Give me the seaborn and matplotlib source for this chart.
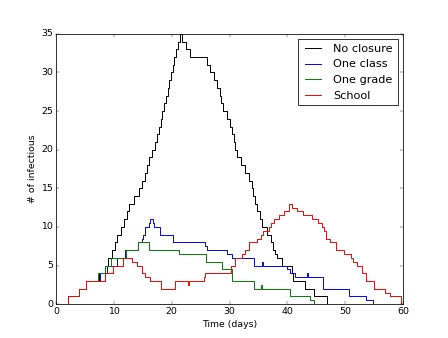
import pandas as pd
import numpy as np
import matplotlib
matplotlib.use('Agg')
import matplotlib.pyplot as plt
from matplotlib.lines import Line2D
import seaborn as sns

# values (time in days, number infectious)
no_closure_t = [0, 2, 3.9, 5.1, 7.4, 8.5, 8.9, 9.6, 10.2, 10.6, 11.2, 11.7, 12.2, 12.7, 13.5, 14.3,
                14.8, 15.3, 15.7, 16.0, 16.6, 17.1, 17.4, 17.8, 18.1, 18.4, 18.7, 19.0, 19.3, 19.5,
                19.9, 20.2, 20.4, 20.8, 21.1, 21.5, 21.8, 22.4, 23.2, 26.1, 26.6, 27.3, 27.8, 28.3,
                28.6, 28.9, 29.5, 30.0, 30.4, 30.8, 31.0, 31.3, 32.0, 32.7, 33.3, 33.8, 34.1, 34.4,
                34.7, 35.2, 35.6, 36.5, 37.1, 37.5, 37.9, 38.2, 39.0, 40.8, 41.0, 43.1, 44.5, 46.8, 60]
no_closure_v = [0, 1, 2, 3, 4, 5, 6, 7, 8, 9, 10, 11, 12, 13, 14, 15,
                16, 17, 18, 19, 20, 21, 22, 23, 24, 25, 26, 27, 28, 29,
                30, 31, 32, 33, 34, 35, 34, 33, 32, 31, 30, 29, 28, 27,
                26, 25, 24, 23, 22, 21, 20, 19, 18, 17, 16, 15, 14, 13,
                12, 11, 10, 9, 8, 7, 6.5, 6, 5, 4, 3, 2, 1, 0, 0]

one_class_t = [0, 2, 3.9, 5.1, 7.6, 8.8, 10.5, 11.9, 14.2, 14.8, 15.1, 15.4, 16.0, 16.3, 16.7,
               17.0, 18.0, 20.3, 25.8, 26.1, 29.5, 30.4, 34.2, 35.6, 35.8, 39.9, 40.5, 41.3,
               43.4, 43.6, 46.2, 50.7, 53.6, 54.8, 60]
one_class_v = [0, 1, 2, 3, 4, 5, 6, 7, 8, 8.5, 9, 10, 10.5, 11, 10.5,
               10, 9, 8, 7.5, 7, 6.5, 6, 5, 5.5, 5, 4.5, 4, 3.5,
               4, 3.5, 2, 1, 0.5, 0, 0]

one_grade_t = [0, 2, 3.9, 5.1, 7.2, 8.4, 9.5, 12.1, 14.2, 16.0, 21.2, 26.0, 28.7, 30.5, 34.3,
               35.4, 35.6, 40.5, 43.9, 44.5, 60]
one_grade_v = [0, 1, 2, 3, 4, 5, 6, 7, 8, 7, 6.5, 5.5, 4.5, 3, 2,
               2.5, 2, 1, 0.5, 0, 0]

school_t = [0, 2, 3.9, 5.1, 8.5, 9.8, 11.5, 13.1, 14.0, 14.8, 15.4, 16.2, 18.2, 20.6, 22.8,
            23.0, 25.6, 25.8, 30.2, 31.0, 32.2, 32.6, 33.4, 34.8, 35.4, 35.7, 36.8, 37.2, 37.6,
            38.6, 39.4, 40.2, 40.8, 41.6, 42.7, 44.2, 45.3, 45.9, 46.3, 46.6, 47.4, 48.4, 49.8,
            50.9, 51.4, 52.0, 52.9, 53.5, 54.9, 56.9, 57.8, 59.6, 60]
school_v = [0, 1, 2, 3, 4, 5, 6, 5.5, 5, 4, 3.5, 3, 2, 3, 2.5,
            3, 3.5, 4, 5, 6, 6.5, 7, 8, 8.5, 9, 9.5, 10, 10.5, 11,
            11.5, 12, 13, 12.5, 12, 11.5, 11, 10.5, 10, 9.5, 8.5, 8, 7, 6.5,
            6, 5.5, 5, 4, 3, 2, 1.5, 1, 0, 0]

labels = ['No closure', 'One class', 'One grade', 'School']
colors = {'No closure': '#000000', 'One class': '#0000ff',
          'One grade': '#008000', 'School': '#ff0000'}

frames = []
for lab, t, v in zip(labels,
                     [no_closure_t, one_class_t, one_grade_t, school_t],
                     [no_closure_v, one_class_v, one_grade_v, school_v]):
    frames.append(pd.DataFrame({'time': t, 'infectious': v, 'scenario': lab}))
df = pd.concat(frames, ignore_index=True)

# old-style matplotlib look
plt.style.use('classic')
fig = plt.figure(figsize=(448 / 56, 338 / 56), dpi=56, facecolor='white')
ax = fig.add_subplot(111)
ax.set_facecolor('white')

sns.lineplot(data=df, x='time', y='infectious', hue='scenario', hue_order=labels,
             palette=colors, drawstyle='steps-post', estimator=None, sort=False,
             linewidth=1.25, legend=False, ax=ax)

ax.set_xlim(0, 60)
ax.set_ylim(0, 35)
ax.set_xticks(np.arange(0, 61, 10))
ax.set_yticks(np.arange(0, 36, 5))
ax.set_xlabel('Time (days)')
ax.set_ylabel('# of infectious')
handles = [Line2D([], [], color=colors[lab], linewidth=1.25) for lab in labels]
ax.legend(handles, labels, loc='upper right', fontsize=14.4)

fig.savefig('out.png', dpi=56, facecolor='white')
